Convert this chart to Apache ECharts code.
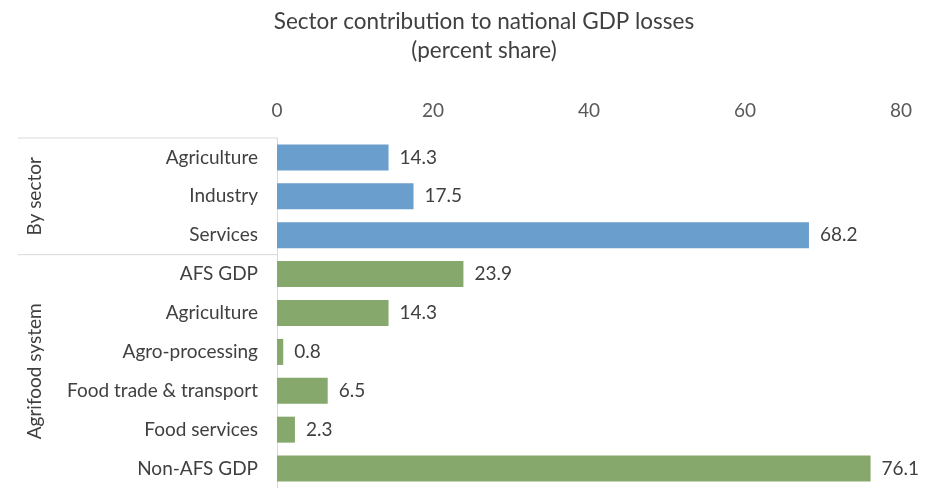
<!DOCTYPE html>
<html>
<head>
<meta charset="utf-8">
<script src="https://cdn.jsdelivr.net/npm/echarts@6/dist/echarts.min.js"></script>
<style>
  html, body { margin: 0; padding: 0; background: #fff; }
  #chart { width: 935px; height: 488px; }
</style>
</head>
<body>
<div id="chart"></div>
<script>
// Category names for the two groups of bars
const sectorCategories = ['Agriculture', 'Industry', 'Services'];
const afsCategories = ['AFS GDP', 'Agriculture', 'Agro-processing', 'Food trade & transport', 'Food services', 'Non-AFS GDP'];
// Contribution to GDP losses, percent share
const sectorValues = [14.3, 17.5, 68.2];
const afsValues = [23.9, 14.3, 0.8, 6.5, 2.3, 76.1];
// Group names shown along the left side
const groupNames = ['By sector', 'Agrifood system'];
// Value axis ticks
const xTicks = [0, 20, 40, 60, 80];

const FONT = 'Lato, "Open Sans", sans-serif';
const BLUE = '#6a9ecd';
const GREEN = '#86a86c';
const LINE = '#d9d9d9';
const TEXT = '#404040';

const categories = sectorCategories.concat(afsCategories);
const barData = sectorValues.map(v => ({ value: v, itemStyle: { color: BLUE } }))
  .concat(afsValues.map(v => ({ value: v, itemStyle: { color: GREEN } })));

const chart = echarts.init(document.getElementById('chart'), null, { renderer: 'canvas' });

chart.setOption({
  animation: false,
  backgroundColor: '#ffffff',
  title: {
    text: 'Sector contribution to national GDP losses\n(percent share)',
    left: 479,
    top: 2,
    textAlign: 'center',
    textStyle: {
      fontFamily: FONT,
      fontSize: 22.5,
      fontWeight: 'normal',
      color: TEXT,
      lineHeight: 29
    }
  },
  grid: { left: 277, right: 34, top: 138, bottom: -4, containLabel: false },
  xAxis: {
    type: 'value',
    position: 'top',
    min: xTicks[0],
    max: xTicks[xTicks.length - 1],
    interval: xTicks[1] - xTicks[0],
    axisLine: { show: false },
    axisTick: { show: false },
    splitLine: { show: false },
    axisLabel: { fontFamily: FONT, fontSize: 19, color: '#595959', margin: 18 }
  },
  yAxis: {
    type: 'category',
    inverse: true,
    data: categories,
    axisLine: { show: true, lineStyle: { color: LINE, width: 1 } },
    axisTick: { show: false },
    axisLabel: { fontFamily: FONT, fontSize: 19, color: TEXT, margin: 19 }
  },
  series: [{
    type: 'bar',
    data: barData,
    barWidth: 26,
    label: {
      show: true,
      position: 'right',
      distance: 11,
      fontFamily: FONT,
      fontSize: 19,
      color: TEXT,
      formatter: p => p.value.toFixed(1)
    }
  }]
});

// Group brackets and rotated group names, placed from the axis scales
function drawGroups() {
  const axisX = chart.convertToPixel({ xAxisIndex: 0 }, 0);
  const c0 = chart.convertToPixel({ yAxisIndex: 0 }, 0);
  const c1 = chart.convertToPixel({ yAxisIndex: 0 }, 1);
  const band = c1 - c0;
  const n = categories.length;
  const top = c0 - band / 2;
  const split = chart.convertToPixel({ yAxisIndex: 0 }, sectorCategories.length) - band / 2;
  const bottom = chart.convertToPixel({ yAxisIndex: 0 }, n - 1) + band / 2;
  const leftX = 18;
  const labelX = 35;
  chart.setOption({
    graphic: [
      { type: 'line', shape: { x1: leftX, y1: top, x2: axisX, y2: top }, style: { stroke: LINE, lineWidth: 1 }, silent: true },
      { type: 'line', shape: { x1: leftX, y1: split, x2: axisX, y2: split }, style: { stroke: LINE, lineWidth: 1 }, silent: true },
      { type: 'text', x: labelX, y: (top + split) / 2, rotation: Math.PI / 2,
        style: { text: groupNames[0], fontFamily: FONT, fontSize: 19, fill: TEXT, align: 'center', verticalAlign: 'middle' }, silent: true },
      { type: 'text', x: labelX, y: (split + bottom) / 2, rotation: Math.PI / 2,
        style: { text: groupNames[1], fontFamily: FONT, fontSize: 19, fill: TEXT, align: 'center', verticalAlign: 'middle' }, silent: true }
    ]
  });
}
drawGroups();
</script>
</body>
</html>
